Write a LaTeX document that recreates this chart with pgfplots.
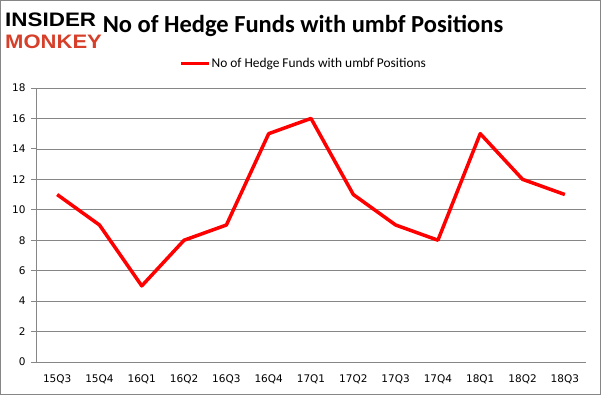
\documentclass[border=0pt]{standalone}
\usepackage{pgfplots}
\pgfplotsset{compat=1.18}
\usepackage{fontspec}
\setmainfont{Carlito}
\newfontfamily\arialf{Liberation Sans}
\newfontfamily\dejavu{DejaVu Sans}
\definecolor{gridgray}{RGB}{134,134,134}
\definecolor{monkeyred}{RGB}{214,64,42}
\begin{document}
\begin{tikzpicture}[x=1pt,y=1pt]
\draw[draw=gridgray,line width=1pt] (0.5,0.5) rectangle (600.5,394.5);
\node[anchor=base west,font=\arialf\bfseries\fontsize{19.5}{19.5}\selectfont,inner sep=0,xscale=1.15] at (5,368.5) {INSIDER};
\node[anchor=base west,font=\arialf\bfseries\fontsize{19.5}{19.5}\selectfont,text=monkeyred,inner sep=0,xscale=1.13] at (5,346) {MONKEY};
\node[font=\bfseries\fontsize{24.5}{24.5}\selectfont,inner sep=0] at (303,369) {No of Hedge Funds with umbf Positions};
\begin{axis}[
  at={(36pt,33pt)}, anchor=south west,
  scale only axis, width=550pt, height=274pt,
  xmin=-0.5, xmax=12.5, ymin=0, ymax=18,
  xtick={0,...,12},
  xticklabels={15Q3,15Q4,16Q1,16Q2,16Q3,16Q4,17Q1,17Q2,17Q3,17Q4,18Q1,18Q2,18Q3},
  extra x ticks={-0.5,0.5,...,12.5},
  extra x tick labels={},
  extra x tick style={major tick length=5pt, tick style={draw=gridgray}, grid=none},
  ytick={0,2,...,18},
  ymajorgrids, grid style={draw=gridgray, line width=0.6pt},
  axis x line*=bottom, axis y line*=left,
  axis line style={draw=gridgray, line width=0.8pt, -},
  x tick style={draw=none},
  y tick style={draw=gridgray, line width=0.8pt},
  tick align=outside, major tick length=5pt,
  tick label style={font=\dejavu\fontsize{10.5}{10.5}\selectfont},
  /pgf/number format/assume math mode=true,
  xticklabel style={yshift=-4pt},
  yticklabel style={xshift=-2pt},
  legend style={at={(0.5,1)}, anchor=south, xshift=-8pt, yshift=16pt, draw=none, fill=none,
    font=\fontsize{13.4}{13.4}\selectfont, legend cell align=left,
    nodes={inner sep=1pt}},
  legend image code/.code={\draw[#1] (0pt,0pt) -- (28pt,0pt);},
]
\addplot[red, line width=3.5pt, line join=round] coordinates {
(0,11) (1,9) (2,5) (3,8) (4,9) (5,15) (6,16) (7,11) (8,9) (9,8) (10,15) (11,12) (12,11)};
\addlegendentry{No of Hedge Funds with umbf Positions}
\end{axis}
\end{tikzpicture}
\end{document}
